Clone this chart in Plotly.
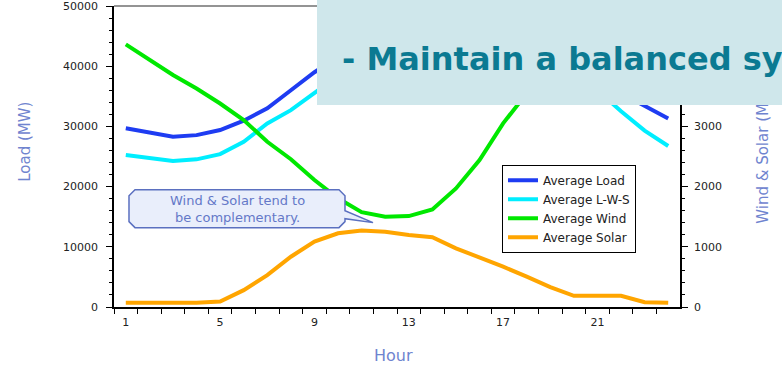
import plotly.graph_objects as go

hours = list(range(1, 25))
avg_load = [29700, 28950, 28300, 28550, 29400, 30950, 33000, 36000, 39000, 41500, 43000, 44000,
            44500, 44800, 45000, 45200, 45500, 45800, 45500, 44000, 40500, 35500, 33400, 31300]
avg_lws = [25250, 24700, 24250, 24530, 25400, 27450, 30500, 32700, 35600, 38400, 40100, 41200,
           41800, 42000, 42000, 41900, 41700, 41500, 40800, 39000, 36000, 32500, 29300, 26750]
avg_wind = [4363, 4100, 3855, 3630, 3380, 3105, 2745, 2455, 2110, 1805, 1575, 1500,
            1510, 1620, 1970, 2440, 3050, 3550, 3900, 4150, 4300, 4400, 4450, 4450]
avg_solar = [70, 70, 70, 70, 90, 280, 530, 835, 1085, 1225, 1270, 1250,
             1195, 1160, 975, 825, 670, 505, 330, 185, 185, 185, 80, 70]

x_labels = [1, 5, 9, 13, 17, 21]
left_ticks = [0, 10000, 20000, 30000, 40000, 50000]
right_ticks = [0, 1000, 2000, 3000, 4000, 5000]

W, H = 782, 368
L, R, T, B = 114, 680, 6, 307.5


def px(x):
    return (x - L) / (R - L)


def py(y):
    return (B - y) / (B - T)


FONT = "DejaVu Sans"
TITLE_C = "#6f84cf"

fig = go.Figure()
fig.add_trace(go.Scatter(x=hours, y=avg_load, name="Average Load", mode="lines",
                         line=dict(color="#1e3cf2", width=4), yaxis="y"))
fig.add_trace(go.Scatter(x=hours, y=avg_lws, name="Average L-W-S", mode="lines",
                         line=dict(color="#00eeff", width=4), yaxis="y"))
fig.add_trace(go.Scatter(x=hours, y=avg_wind, name="Average Wind", mode="lines",
                         line=dict(color="#00e800", width=4), yaxis="y2"))
fig.add_trace(go.Scatter(x=hours, y=avg_solar, name="Average Solar", mode="lines",
                         line=dict(color="#ffa500", width=4), yaxis="y2"))

# callout bubble
pts = [(135, 190), (339, 190), (345, 196), (345, 211), (373, 223), (345, 219), (345, 222),
       (339, 228), (135, 228), (129, 222), (129, 196)]
path = "M " + " L ".join(f"{px(a):.4f},{py(b):.4f}" for a, b in pts) + " Z"

shapes = [
    dict(type="line", xref="paper", yref="paper", x0=0, x1=1, y0=1, y1=1,
         line=dict(color="#707070", width=1.5), layer="above"),
    dict(type="path", xref="paper", yref="paper", path=path, fillcolor="#e9eefb",
         line=dict(color="#5b70c0", width=1.5), layer="above"),
]

annotations = [
    dict(text="Load (MW)", xref="paper", yref="paper", x=px(25), y=py(142), showarrow=False,
         xanchor="center", yanchor="middle",
         textangle=-90, font=dict(family=FONT, size=15, color=TITLE_C)),
    dict(text="Wind & Solar (MW)", xref="paper", yref="paper", x=px(763), y=py(154), showarrow=False,
         xanchor="center", yanchor="middle",
         textangle=-90, font=dict(family=FONT, size=15, color=TITLE_C)),
    dict(text="Hour", xref="paper", yref="paper", x=px(393), y=py(356), showarrow=False,
         xanchor="center", yanchor="middle",
         font=dict(family=FONT, size=16, color=TITLE_C)),
    dict(text="Wind & Solar tend to<br>be complementary.", xref="paper", yref="paper",
         x=px(237), y=py(209.5), showarrow=False, xanchor="center", yanchor="middle",
         font=dict(family=FONT, size=13, color="#6478c8")),
    # overlay banner
    dict(text=" ", xref="paper", yref="paper", x=px(317), y=py(0), xanchor="left", yanchor="top",
         width=465, height=105, bgcolor="#cfe7eb", borderpad=0, borderwidth=0, showarrow=False),
    dict(text="<b>- Maintain a balanced system</b>", xref="paper", yref="paper",
         x=px(340), y=py(59), xanchor="left", yanchor="middle", showarrow=False,
         font=dict(family=FONT, size=32, color="#0b7a92")),
]

tickfont = dict(family=FONT, size=11, color="#222222")

fig.update_layout(
    width=W, height=H,
    margin=dict(l=L, r=W - R, t=T, b=H - B, autoexpand=False),
    paper_bgcolor="white", plot_bgcolor="white",
    showlegend=True,
    legend=dict(x=px(502), y=py(165), xanchor="left", yanchor="top",
                bordercolor="black", borderwidth=1, bgcolor="white",
                font=dict(family=FONT, size=12, color="#222222"), tracegroupgap=0),
    xaxis=dict(range=[0.5, 24.5], tickmode="array", tickvals=x_labels, automargin=False,
               ticktext=[str(v) for v in x_labels], ticks="", showgrid=False, zeroline=False,
               showline=True, linecolor="black", linewidth=1.5, tickfont=tickfont,
               ticklabelstandoff=4,
               minor=dict(tickmode="array", tickvals=[h + 0.5 for h in range(24)],
                          ticks="outside", ticklen=5, tickcolor="black", tickwidth=1.3,
                          showgrid=False)),
    yaxis=dict(range=[0, 50000], tickmode="array", tickvals=left_ticks, automargin=False,
               ticktext=[str(v) for v in left_ticks], ticklabeloverflow="allow",
               ticks="outside", ticklen=6, tickwidth=1.3, tickcolor="black",
               showgrid=False, zeroline=False, showline=True, linecolor="black", linewidth=1.5,
               tickfont=tickfont, ticklabelstandoff=6,
               minor=dict(dtick=2000, ticks="outside", ticklen=3, tickcolor="black",
                          showgrid=False)),
    yaxis2=dict(range=[0, 5000], overlaying="y", side="right", tickmode="array",
                tickvals=right_ticks, ticktext=[str(v) for v in right_ticks],
                ticklabeloverflow="allow", automargin=False,
                ticks="outside", ticklen=6, tickwidth=1.3,
                tickcolor="black", showgrid=False, zeroline=False, showline=True,
                linecolor="black", linewidth=1.5, tickfont=tickfont, ticklabelstandoff=4,
                minor=dict(dtick=200, ticks="outside", ticklen=3, tickcolor="black",
                           showgrid=False)),
    shapes=shapes,
    annotations=annotations,
)

fig.write_html("out.html", config={"displayModeBar": False},
               post_script="document.body.style.margin='0px';")
